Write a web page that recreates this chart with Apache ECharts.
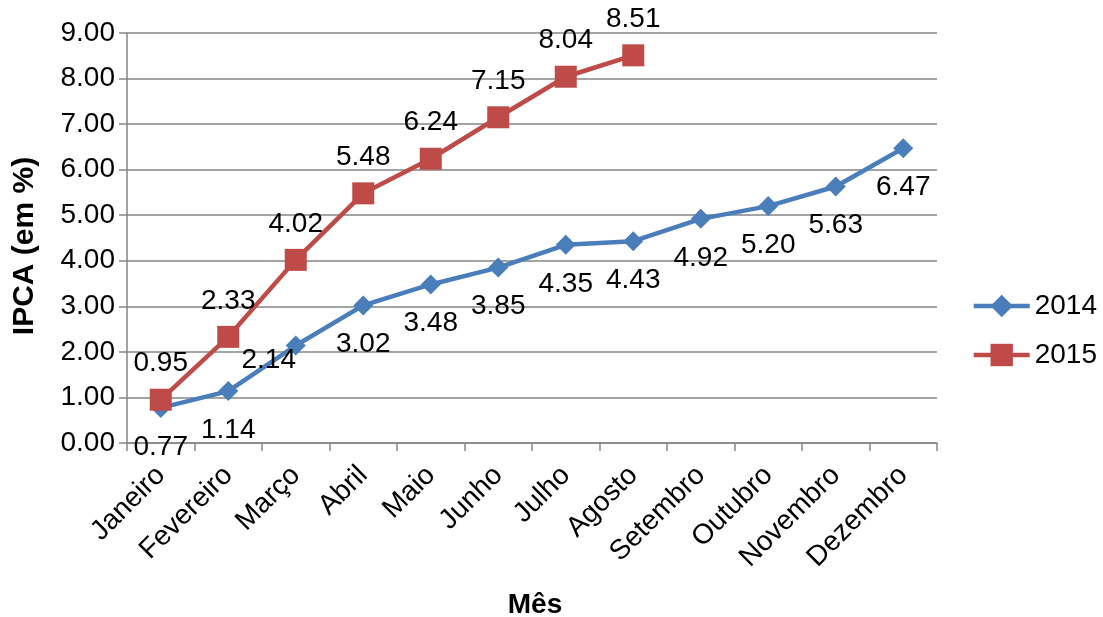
<!DOCTYPE html>
<html><head><meta charset="utf-8">
<script src="https://cdn.jsdelivr.net/npm/echarts@6/dist/echarts.min.js"></script>
<style>html,body{margin:0;padding:0;background:#fff}#c{width:1103px;height:617px}</style>
</head><body><div id="c"></div>
<script>
const months = ["Janeiro","Fevereiro","Março","Abril","Maio","Junho","Julho","Agosto","Setembro","Outubro","Novembro","Dezembro"];
const ipca2014 = [0.77,1.14,2.14,3.02,3.48,3.85,4.35,4.43,4.92,5.20,5.63,6.47];
const ipca2015 = [0.95,2.33,4.02,5.48,6.24,7.15,8.04,8.51];
const yTicks = [0,1,2,3,4,5,6,7,8,9];

const FONT = "Liberation Sans, Arial, sans-serif";
const chart = echarts.init(document.getElementById('c'));
const lbl = {show:true, fontFamily:FONT, fontSize:28, color:'#000', formatter:p=>p.value.toFixed(2)};
chart.setOption({
  animation:false,
  grid:{left:127, right:166, top:33, bottom:174, containLabel:false, outerBoundsMode:'none'},
  legend:{
    orient:'vertical', right:1, top:287, itemGap:21, itemWidth:56, itemHeight:28,
    lineStyle:{width:4.5},
    textStyle:{fontFamily:FONT, fontSize:28, color:'#000', padding:[0,0,0,0]},
    data:['2014','2015']
  },
  xAxis:{
    type:'category', data:months, boundaryGap:true,
    name:'Mês', nameLocation:'middle', nameGap:148,
    nameTextStyle:{fontFamily:FONT, fontSize:28, fontWeight:'bold', color:'#000', padding:[0,0,0,6]},
    axisLine:{lineStyle:{color:'#868686', width:1.5}},
    axisTick:{show:true, length:8, lineStyle:{color:'#868686', width:1.5}},
    axisLabel:{rotate:45, fontFamily:FONT, fontSize:28, color:'#000', margin:28, interval:0}
  },
  yAxis:{
    type:'value', min:0, max:9, interval:1,
    name:'IPCA (em %)', nameLocation:'middle', nameGap:87,
    nameTextStyle:{fontFamily:FONT, fontSize:30, fontWeight:'bold', color:'#000', padding:[0,16,0,0]},
    axisLine:{show:true, lineStyle:{color:'#868686', width:1.5}},
    axisTick:{show:true, length:8, lineStyle:{color:'#868686', width:1.5}},
    splitLine:{lineStyle:{color:'#868686', width:1.5}},
    axisLabel:{fontFamily:FONT, fontSize:28, color:'#000', margin:12, formatter:v=>v.toFixed(2)}
  },
  series:[
    {name:'2014', type:'line', data:ipca2014.map((v,i)=> i===2 ? {value:v, label:{offset:[-27,-24]}} : v),
     symbol:'diamond', symbolSize:20, lineStyle:{width:4.5, color:'#4A7EBB'},
     itemStyle:{color:'#4A7EBB'},
     label:Object.assign({}, lbl, {position:'bottom', distance:15})},
    {name:'2015', type:'line', data:ipca2015,
     symbol:'rect', symbolSize:22, lineStyle:{width:4.5, color:'#BE4B48'},
     itemStyle:{color:'#BE4B48'}, z:3,
     label:Object.assign({}, lbl, {position:'top', distance:11})}
  ]
});
</script></body></html>
